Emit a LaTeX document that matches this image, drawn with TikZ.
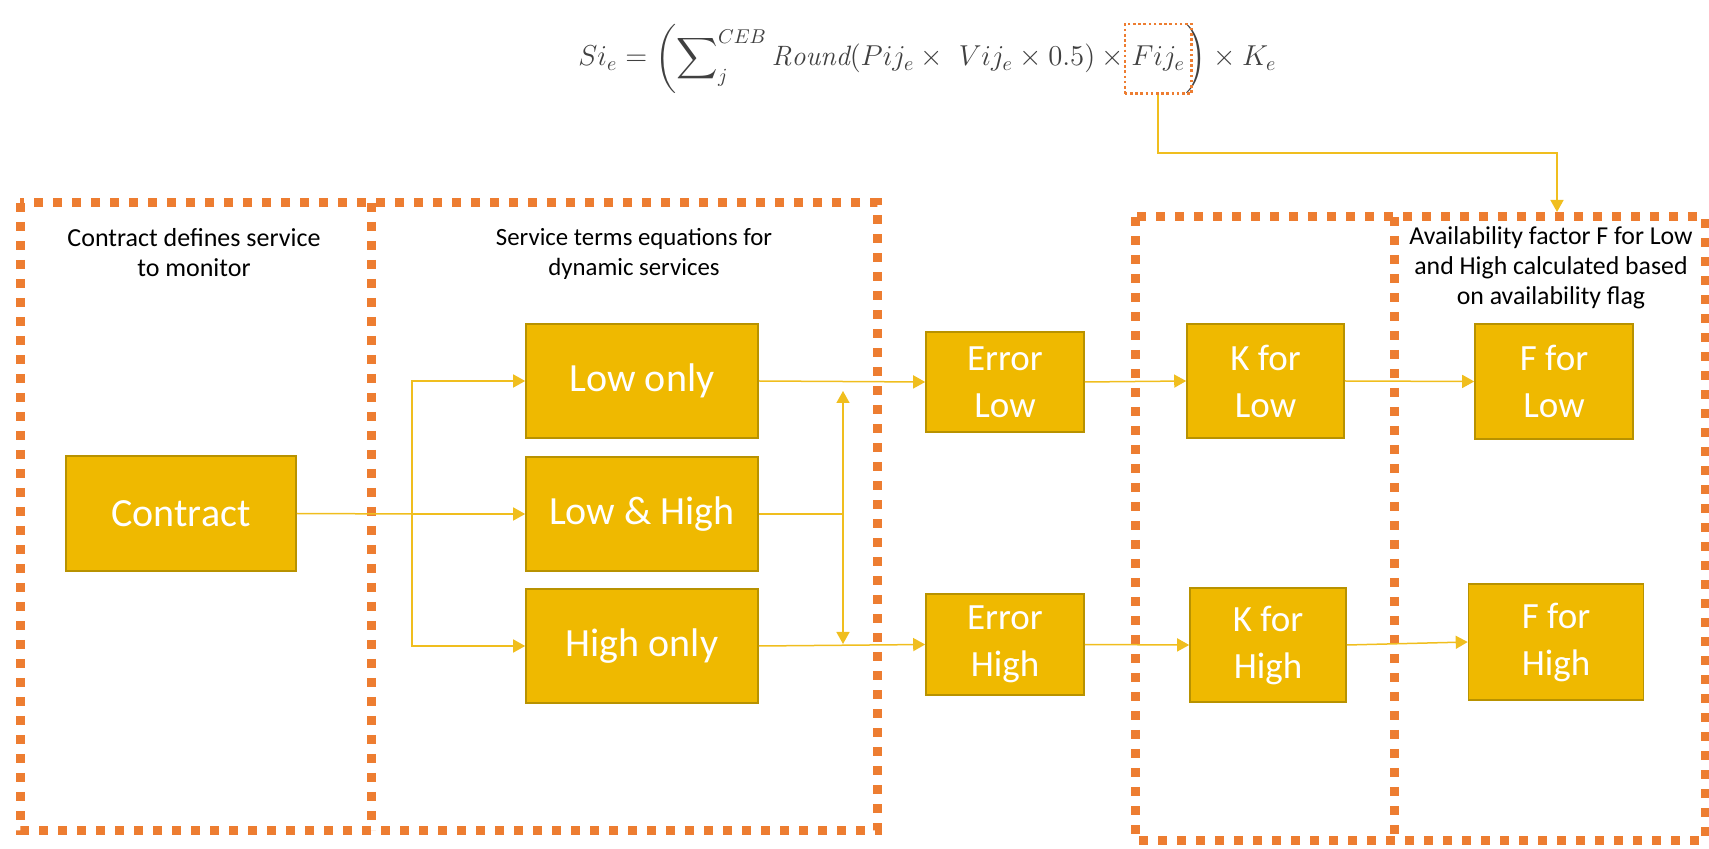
\documentclass[tikz,border=0pt]{standalone}
\usepackage{fontspec}
\usepackage{amsmath}
\newfontfamily\calibri{Carlito}
\usetikzlibrary{arrows.meta,fit}
\definecolor{gold}{HTML}{EFB900}
\definecolor{golddark}{HTML}{B89200}
\definecolor{goldline}{HTML}{F0BE1E}
\definecolor{frameorange}{HTML}{ED7D31}
\definecolor{formulagray}{HTML}{404040}

\begin{document}
\begin{tikzpicture}[x=0.5pt,y=-0.5pt,
        stage/.style={draw=golddark, line width=0.8pt, fill=gold, text=white, inner sep=0pt, align=center, font=\calibri\fontsize{20}{24}\selectfont},
        twoline/.style={font=\calibri\fontsize{18.5}{23.5}\selectfont},
        frame/.style={draw=frameorange, line width=4.5pt, dash pattern=on 4.5pt off 5pt},
        caption/.style={align=center, inner sep=0pt, font=\calibri\fontsize{12.4}{15}\selectfont},
        link/.style={draw=goldline, line width=0.75pt},
        tip/.style={-{Triangle[length=6pt,width=6.5pt]}},
        bothtips/.style={{Triangle[length=6pt,width=6.5pt]}-{Triangle[length=6pt,width=6.5pt]}},
        formula/.style={inner sep=0pt, text=formulagray, font=\fontsize{14}{17}\selectfont},
        fijbox/.style={draw=frameorange, line width=1.3pt, dash pattern=on 1.3pt off 1.3pt, inner xsep=3pt, inner ysep=0pt}]
        \useasboundingbox (0,0) rectangle (1709,849);
        % Formula
        \node[formula, anchor=base west] (fleft) at (578,66) {$\displaystyle Si_e = \biggl(\sum\nolimits_j^{CEB} \mathit{Round}(Pij_e \times\ Vij_e \times 0.5) \times {}$};
        \node[formula, anchor=base west] (fij) at (fleft.base east) {$Fij_e$};
        \node[formula, anchor=base west] (fright) at (fij.base east) {${}\biggr) \times K_e$};
        \node[fijbox, fit=(fij)(fij|-fleft.north)(fij|-fleft.south)] (fijframe) {};
        % Frames
        \draw[frame] (20,203) rectangle (877,830);
        \draw[frame] (371,203) -- (371,830);
        \draw[frame] (1135,217) rectangle (1705,840);
        \draw[frame] (1394,217) -- (1394,840);
        % Captions
        \node[caption, font=\calibri\fontsize{13}{15}\selectfont] (capcontract) at (194,253) {Contract defines service\\to monitor};
        \node[caption] (capterms) at (634,254) {Service terms equations for\\dynamic services};
        \node[caption, font=\calibri\fontsize{12.9}{15}\selectfont] (capavail) at (1551,268) {Availability factor F for Low\\and High calculated based\\on availability flag};
        % Stages
        \node[stage, minimum width=115pt, minimum height=57.5pt] (contract) at (181,513.5) {Contract};
        \node[stage, minimum width=116pt, minimum height=57pt] (lowonly) at (642,381) {Low only};
        \node[stage, minimum width=116pt, minimum height=57pt] (lowhigh) at (642,514) {Low \& High};
        \node[stage, minimum width=116pt, minimum height=57pt] (highonly) at (642,646) {High only};
        \node[stage, twoline, minimum width=79pt, minimum height=50pt] (errlow) at (1005,382) {Error\\Low};
        \node[stage, twoline, minimum width=79pt, minimum height=50.5pt] (errhigh) at (1005,644.5) {Error\\High};
        \node[stage, twoline, minimum width=78.5pt, minimum height=57pt] (klow) at (1265.5,381) {K for\\Low};
        \node[stage, twoline, minimum width=78pt, minimum height=57pt] (khigh) at (1268,645) {K for\\High};
        \node[stage, twoline, minimum width=79pt, minimum height=57.5pt] (flow) at (1554,381.5) {F for\\Low};
        \node[stage, twoline, minimum width=87.5pt, minimum height=58pt] (fhigh) at (1556,642) {F for\\High};
        % Links
        \coordinate (split) at (412,514);
        \coordinate (merge) at (843,514);
        \coordinate (fturn) at (1557,153);
        \coordinate (fend) at (1557,212);
        \draw[link] (contract.east) -- (split);
        \draw[link,tip] (split) |- (lowonly.west);
        \draw[link,tip] (split) -- (lowhigh.west);
        \draw[link,tip] (split) |- (highonly.west);
        \draw[link,tip] (lowonly.east) -- (errlow.west);
        \draw[link,tip] (highonly.east) -- (errhigh.west);
        \draw[link] (lowhigh.east) -- (merge);
        \draw[link,bothtips,shorten <=5pt,shorten >=1pt] (merge |- lowonly.east) -- (merge |- highonly.east);
        \draw[link,tip] (errlow.east) -- (klow.west);
        \draw[link,tip] (klow.east) -- (flow.west);
        \draw[link,tip] (errhigh.east) -- (khigh.west);
        \draw[link,tip] (khigh.east) -- (fhigh.west);
        \draw[link,tip] (fijframe.south) |- (fturn) -- (fend);
    \end{tikzpicture}
\end{document}
